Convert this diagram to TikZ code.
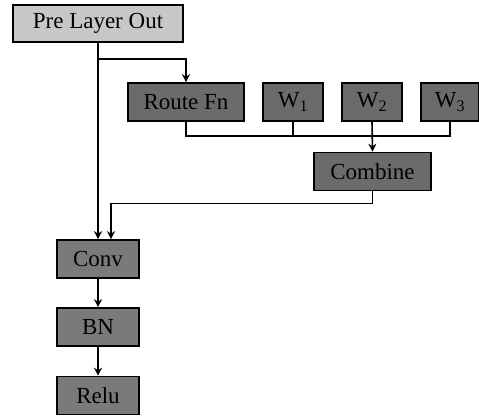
\documentclass[tikz,border=0pt]{standalone}
\usepackage{fontspec}
\setmainfont{Liberation Serif}
\usetikzlibrary{arrows.meta}
\begin{document}
\begin{tikzpicture}[x=1pt,y=1pt,>={Stealth[length=8pt,width=8pt]},line width=1.6pt,
 font=\fontsize{23}{25}\selectfont,
 lt/.style={draw,fill=black!22,minimum height=37pt,inner sep=0pt},
 dk/.style={draw,fill=black!58,minimum height=38pt,inner sep=0pt}]
\useasboundingbox (0,0) rectangle (479,416);
\node[lt,minimum width=170pt] (pre) at (98,392.5) {Pre Layer Out};
\node[dk,minimum width=116pt] (route) at (186,314) {Route Fn};
\node[dk,minimum width=60pt] (w1) at (293,314) {W\textsubscript{1}};
\node[dk,minimum width=60pt] (w2) at (372,314) {W\textsubscript{2}};
\node[dk,minimum width=58pt] (w3) at (450,314) {W\textsubscript{3}};
\node[dk,minimum width=117pt] (comb) at (372.5,244.5) {Combine};
\node[dk,fill=black!52,minimum width=82pt] (conv) at (98,157) {Conv};
\node[dk,fill=black!52,minimum width=82pt] (bn) at (98,89) {BN};
\node[dk,fill=black!52,minimum width=82pt] (relu) at (98,20.5) {Relu};
\coordinate (br) at (98,357);
\coordinate (bus) at (0,280);
% input goes straight to conv and to the router
\draw[->] (pre.south) -- (conv.north);
\draw[->] (br) -| (route.north);
% router and weights meet on one bus
\draw (route.south) -- (route.south |- bus) -| (w3.south);
\draw (w1.south) -- (w1.south |- bus);
\draw[->] (w2.south) -- (comb.north);
\draw[->,line width=1.2pt] (comb.south) -- ++(0,-12.5) -| ([xshift=13pt]conv.north);
\draw[->] (conv) -- (bn);
\draw[->] (bn) -- (relu);
\end{tikzpicture}
\end{document}
